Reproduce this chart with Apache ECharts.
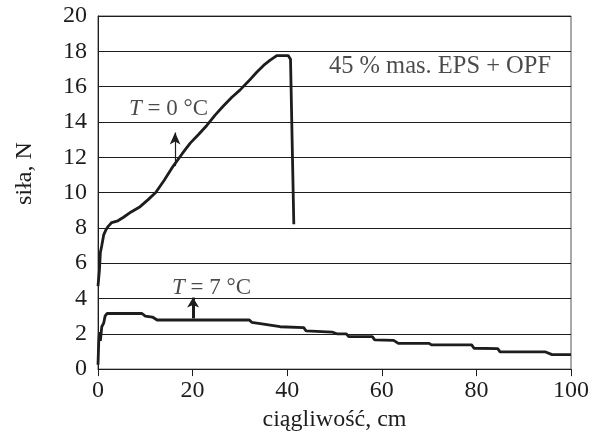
<!DOCTYPE html>
<html><head><meta charset="utf-8">
<script src="https://cdn.jsdelivr.net/npm/echarts@6/dist/echarts.min.js"></script>
<style>html,body{margin:0;padding:0;background:#fff}#c{width:601px;height:437px}</style>
</head><body><div id="c"></div>
<script>
const xTicks = [0, 20, 40, 60, 80, 100];
const yTicks = [0, 2, 4, 6, 8, 10, 12, 14, 16, 18, 20];
const seriesT0 = [[0,4.7],[0.3,5.6],[0.5,6.6],[0.8,7.0],[1.2,7.6],[1.7,7.9],[2.2,8.1],[2.9,8.3],[4.2,8.4],[5.4,8.6],[7.0,8.9],[8.9,9.2],[10.6,9.6],[12.2,10.0],[14.0,10.7],[15.9,11.5],[17.8,12.2],[19.5,12.8],[21.3,13.3],[23.0,13.8],[24.8,14.4],[26.5,14.9],[28.3,15.4],[30.0,15.8],[31.8,16.3],[33.5,16.8],[35.0,17.2],[36.4,17.5],[37.8,17.76],[40.2,17.76],[40.7,17.55],[41.4,8.2]];
const seriesT7 = [[0,0.25],[0.15,1.5],[0.3,2.1],[0.5,1.6],[0.8,2.4],[1.2,2.6],[1.5,3.0],[1.9,3.15],[9.3,3.15],[10.0,3.0],[11.5,2.95],[12.5,2.78],[32.0,2.78],[32.5,2.65],[35.0,2.55],[38.5,2.4],[43.5,2.35],[44.0,2.16],[49.5,2.1],[50.5,2.0],[52.5,2.0],[53.0,1.84],[58.0,1.84],[58.5,1.66],[62.5,1.63],[63.5,1.46],[70.0,1.46],[70.5,1.37],[79.0,1.37],[79.5,1.18],[84.5,1.16],[85.0,0.98],[94.5,0.98],[96.0,0.82],[100,0.82]];
const labelT0 = {pos:[14.9,14.75], text:'{i|T} = 0 °C'};
const labelT7 = {pos:[24.0,4.6], text:'{i|T} = 7 °C'};
const labelMix = {pos:[72.3,17.15], text:'45 % mas. EPS + OPF'};
const arrowT0 = [[16.3,11.5],[16.3,13.4]];
const arrowT7 = [[20.1,2.87],[20.1,4.05]];

const FONT = 'Liberation Serif, Times New Roman, serif';
const ink = '#1e1c1d';
const chart = echarts.init(document.getElementById('c'));
function lbl(o, size){
  return {value:o.pos, label:{show:true, formatter:o.text, position:'inside', fontFamily:FONT, fontSize:size, color:ink,
    rich:{i:{fontStyle:'italic', fontFamily:FONT, fontSize:size, color:ink}}}};
}
chart.setOption({
  animation:false,
  grid:{left:98, right:30, top:16, bottom:66, show:true, borderColor:'#555', borderWidth:1},
  xAxis:{type:'value', min:0, max:100, interval:20,
    name:'ciągliwość, cm', nameLocation:'middle', nameGap:33,
    nameTextStyle:{fontFamily:FONT, fontSize:24, color:ink},
    axisLine:{lineStyle:{color:ink, width:1}},
    axisTick:{show:true, length:7, lineStyle:{color:ink}},
    axisLabel:{fontFamily:FONT, fontSize:24, color:ink, margin:10, formatter:v=>xTicks.includes(v)?String(v):''},
    splitLine:{show:false}},
  yAxis:{type:'value', min:0, max:20, interval:2,
    name:'siła, N', nameLocation:'middle', nameGap:61,
    nameTextStyle:{fontFamily:FONT, fontSize:24, color:ink, padding:[0,0,0,38]},
    axisLine:{show:true, lineStyle:{color:ink, width:1}},
    axisTick:{show:false},
    axisLabel:{fontFamily:FONT, fontSize:24, color:ink, margin:11, formatter:v=>yTicks.includes(v)?String(v):''},
    splitLine:{show:true, lineStyle:{color:ink, width:1}}},
  series:[
    {type:'line', data:seriesT0, symbol:'none', lineStyle:{color:ink, width:2.8}, z:3,
     markLine:{silent:true, symbol:['none','arrow'], symbolSize:[8,12], label:{show:false},
       lineStyle:{color:ink, width:1.2, type:'solid'},
       data:[[{coord:arrowT0[0]},{coord:arrowT0[1]}]]}},
    {type:'line', data:seriesT7, symbol:'none', lineStyle:{color:ink, width:2.8}, z:3,
     markLine:{silent:true, symbol:['none','arrow'], symbolSize:[9,10], label:{show:false},
       lineStyle:{color:ink, width:3, type:'solid'},
       data:[[{coord:arrowT7[0]},{coord:arrowT7[1]}]]}},
    {type:'scatter', symbolSize:0, silent:true, z:5,
     data:[lbl(labelT0,23), lbl(labelT7,23), lbl(labelMix,24.5)]}
  ]
});
</script></body></html>
